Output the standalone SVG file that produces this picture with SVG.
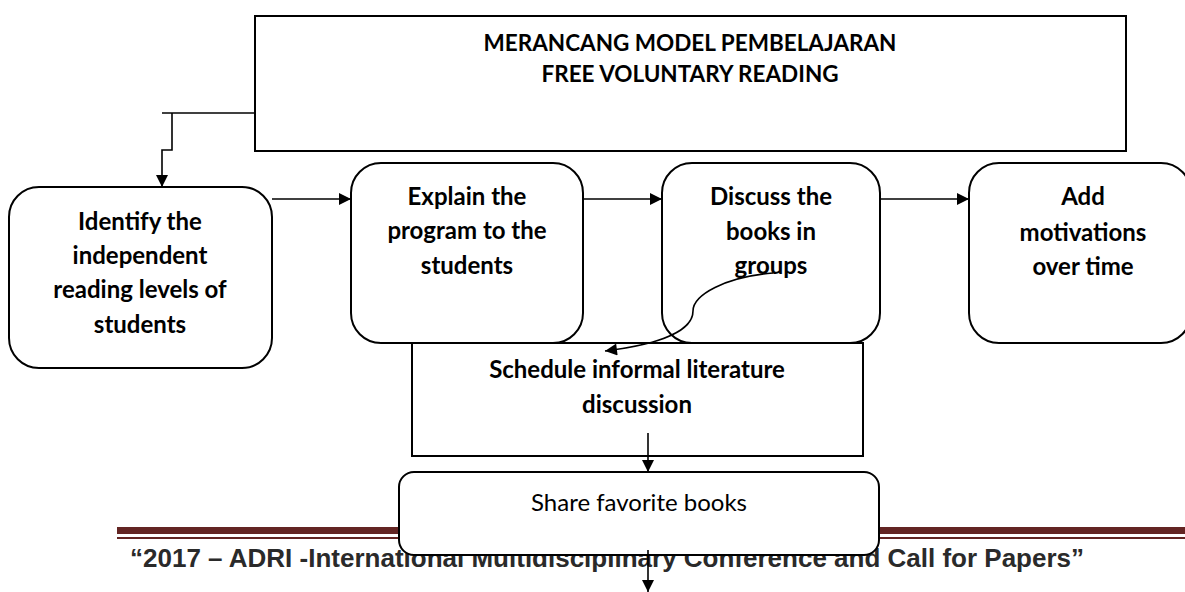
<svg xmlns="http://www.w3.org/2000/svg" width="1185" height="592" viewBox="0 0 1185 592">
  <style>
    .box { fill: #ffffff; stroke: #000000; stroke-width: 2; }
    .lbl { font-family: Lato, "Liberation Sans", sans-serif; font-weight: bold; font-size: 24px; fill: #000000; text-anchor: middle; }
    .plain { font-family: Lato, "Liberation Sans", sans-serif; font-size: 24px; fill: #000000; text-anchor: middle; }
    .title { font-family: Lato, "Liberation Sans", sans-serif; font-weight: bold; font-size: 22.5px; fill: #000000; text-anchor: middle; }
    .wire { fill: none; stroke: #000000; stroke-width: 1.6; }
    .footer { font-family: "Liberation Sans", Arial, sans-serif; font-weight: bold; font-size: 26px; fill: #2a2a2a; }
  </style>
  <defs>
    <marker id="arrowL" viewBox="0 0 10 10" refX="10" refY="5" markerWidth="14" markerHeight="12" markerUnits="userSpaceOnUse" orient="auto">
      <path d="M0,0 L10,5 L0,10 z" fill="#000000"/>
    </marker>
  </defs>

  <rect width="1185" height="592" fill="#ffffff"/>

  <!-- page header rule and conference line -->
  <g id="page-footer">
    <rect x="117" y="527" width="1068" height="7" fill="#632523"/>
    <rect x="117" y="537" width="1068" height="2" fill="#632523"/>
    <text class="footer" x="130" y="567">“2017 – ADRI -International Multidisciplinary Conference and Call for Papers”</text>
  </g>

  <g id="title">
    <rect class="box" x="255" y="16" width="871" height="135"/>
    <text class="title" x="690" y="51">MERANCANG MODEL PEMBELAJARAN</text>
    <text class="title" x="690" y="82">FREE VOLUNTARY READING</text>
  </g>

  <g id="identify">
    <rect class="box" x="9" y="187" width="263" height="181" rx="30" ry="30"/>
    <text class="lbl" x="140" y="230">Identify the</text>
    <text class="lbl" x="140" y="264">independent</text>
    <text class="lbl" x="140" y="298">reading levels of</text>
    <text class="lbl" x="140" y="333">students</text>
  </g>

  <g id="explain">
    <rect class="box" x="351" y="163" width="232" height="180" rx="30" ry="30"/>
    <text class="lbl" x="467" y="205">Explain the</text>
    <text class="lbl" x="467" y="239">program to the</text>
    <text class="lbl" x="467" y="274">students</text>
  </g>

  <g id="discuss">
    <rect class="box" x="662" y="163" width="218" height="180" rx="30" ry="30"/>
    <text class="lbl" x="771" y="205">Discuss the</text>
    <text class="lbl" x="771" y="240">books in</text>
    <text class="lbl" x="771" y="274">groups</text>
  </g>

  <g id="motivations">
    <rect class="box" x="969" y="163" width="222" height="180" rx="30" ry="30"/>
    <text class="lbl" x="1083" y="205">Add</text>
    <text class="lbl" x="1083" y="241">motivations</text>
    <text class="lbl" x="1083" y="275">over time</text>
  </g>

  <g id="schedule">
    <rect class="box" x="412" y="343" width="451" height="113"/>
    <text class="lbl" x="637" y="378">Schedule informal literature</text>
    <text class="lbl" x="637" y="413">discussion</text>
  </g>

  <g id="connectors">
    <path class="wire" d="M162,113 H255"/>
    <path class="wire" d="M172,113 V150 H162 V187" marker-end="url(#arrowL)"/>
    <path class="wire" d="M272,199 H351" marker-end="url(#arrowL)"/>
    <path class="wire" d="M583,199 H662" marker-end="url(#arrowL)"/>
    <path class="wire" d="M880,199 H969" marker-end="url(#arrowL)"/>
    <path class="wire" d="M773,273 C725,277 693,295 693,311 C693,335 645,346 605,351" marker-end="url(#arrowL)"/>
    <path class="wire" d="M648,433 V472" marker-end="url(#arrowL)"/>
  </g>

  <g id="share">
    <rect class="box" x="399" y="472" width="480" height="83" rx="15" ry="15"/>
    <text class="plain" x="639" y="511">Share favorite books</text>
  </g>

  <!-- exit connector, drawn over the share box edge -->
  <g id="connectors-lower">
    <path class="wire" d="M648,550 V592" marker-end="url(#arrowL)"/>
  </g>
</svg>
